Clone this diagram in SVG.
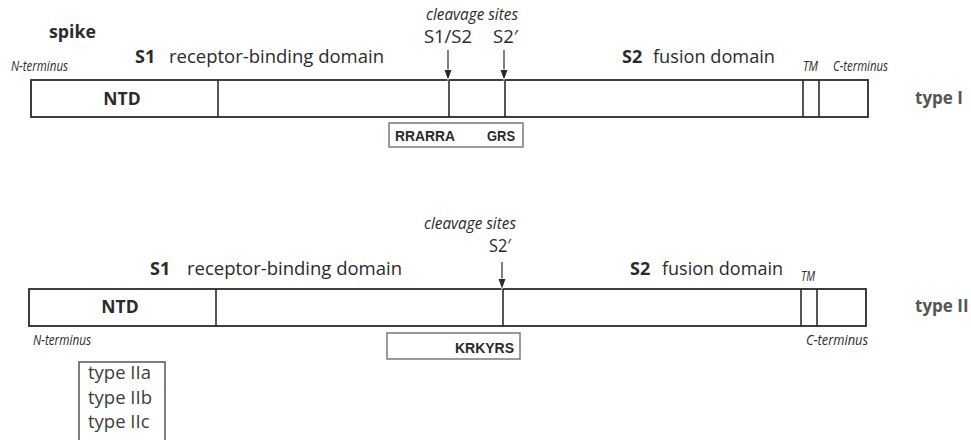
<svg xmlns="http://www.w3.org/2000/svg" width="971" height="440" viewBox="0 0 971 440">
  <style>
    .bg { fill: #ffffff; }
    .box { fill: #ffffff; stroke: #2b2b2b; stroke-width: 1.8; }
    .div { stroke: #2b2b2b; stroke-width: 1.6; fill: none; }
    .seq { fill: #ffffff; stroke: #7a7a7a; stroke-width: 1.5; }
    .sub { fill: #ffffff; stroke: #555555; stroke-width: 1.5; }
    .arr { stroke: #2b2b2b; stroke-width: 1.2; fill: none; }
    .head { fill: #2b2b2b; stroke: #ffffff; stroke-width: 1.2; paint-order: stroke; }
    text { font-family: "Open Sans", "Noto Sans", "DejaVu Sans", sans-serif; fill: #2b2b2b; }
    .b { font-weight: bold; }
    .dom { font-size: 18px; }
    .site { font-size: 18.5px; }
    .it { font-style: italic; font-size: 15.5px; }
    .term { font-style: italic; font-size: 14px; }
    .ntd { font-weight: bold; font-size: 17.5px; }
    .aa { font-family: "Liberation Sans", Arial, sans-serif; font-weight: bold; font-size: 14px; }
    .type { font-weight: bold; font-size: 17px; fill: #555555; }
    .sublbl { font-size: 18.5px; fill: #3d3d3d; }
  </style>

  <rect class="bg" x="0" y="0" width="971" height="440"/>

  <!-- Type I spike -->
  <g id="spike-type-I">
    <text class="b" x="49" y="38" font-size="17.5" textLength="47" lengthAdjust="spacingAndGlyphs">spike</text>
    <text class="term" x="11" y="71" textLength="57" lengthAdjust="spacingAndGlyphs">N-terminus</text>
    <text class="dom b" x="135" y="63">S1</text>
    <text class="dom" x="169" y="63" textLength="215" lengthAdjust="spacingAndGlyphs">receptor-binding domain</text>
    <text class="dom b" x="622" y="63">S2</text>
    <text class="dom" x="653" y="63" textLength="122" lengthAdjust="spacingAndGlyphs">fusion domain</text>
    <text class="term" x="803" y="71" textLength="15" lengthAdjust="spacingAndGlyphs">TM</text>
    <text class="term" x="833" y="71" textLength="55" lengthAdjust="spacingAndGlyphs">C-terminus</text>
    <rect class="box" x="31" y="80" width="837" height="37"/>
    <line class="div" x1="218" y1="80" x2="218" y2="117"/>
    <line class="div" x1="449" y1="80" x2="449" y2="117"/>
    <line class="div" x1="505" y1="80" x2="505" y2="117"/>
    <line class="div" x1="803" y1="80" x2="803" y2="117"/>
    <line class="div" x1="819" y1="80" x2="819" y2="117"/>
    <text class="ntd" x="122" y="105" text-anchor="middle">NTD</text>
    <text class="type" x="915" y="104">type I</text>
  </g>

  <g id="cleavage-type-I">
    <text class="it" x="472" y="20" text-anchor="middle" textLength="92" lengthAdjust="spacingAndGlyphs">cleavage sites</text>
    <text class="site" x="424" y="43" textLength="48" lengthAdjust="spacingAndGlyphs">S1/S2</text>
    <text class="site" x="493" y="43" textLength="25" lengthAdjust="spacingAndGlyphs">S2′</text>
  </g>

  <g id="motif-type-I">
    <rect class="seq" x="389" y="123" width="134" height="24"/>
    <text class="aa" x="395" y="141" textLength="60" lengthAdjust="spacingAndGlyphs">RRARRA</text>
    <text class="aa" x="487" y="141" textLength="28" lengthAdjust="spacingAndGlyphs">GRS</text>
  </g>

  <!-- Type II spike -->
  <g id="spike-type-II">
    <text class="dom b" x="150" y="275">S1</text>
    <text class="dom" x="187" y="275" textLength="215" lengthAdjust="spacingAndGlyphs">receptor-binding domain</text>
    <text class="dom b" x="630" y="275">S2</text>
    <text class="dom" x="662" y="275" textLength="121" lengthAdjust="spacingAndGlyphs">fusion domain</text>
    <text class="term" x="801" y="281" textLength="14" lengthAdjust="spacingAndGlyphs">TM</text>
    <rect class="box" x="29" y="289" width="837" height="37"/>
    <line class="div" x1="216" y1="289" x2="216" y2="326"/>
    <line class="div" x1="503" y1="289" x2="503" y2="326"/>
    <line class="div" x1="801" y1="289" x2="801" y2="326"/>
    <line class="div" x1="817" y1="289" x2="817" y2="326"/>
    <text class="ntd" x="120" y="313" text-anchor="middle">NTD</text>
    <text class="term" x="33" y="345" textLength="58" lengthAdjust="spacingAndGlyphs">N-terminus</text>
    <text class="term" x="806" y="345" textLength="62" lengthAdjust="spacingAndGlyphs">C-terminus</text>
    <text class="type" x="915" y="312">type II</text>
  </g>

  <g id="cleavage-type-II">
    <text class="it" x="470" y="229" text-anchor="middle" textLength="92" lengthAdjust="spacingAndGlyphs">cleavage sites</text>
    <text class="site" x="489" y="252" textLength="22" lengthAdjust="spacingAndGlyphs">S2′</text>
  </g>

  <g id="motif-type-II">
    <rect class="seq" x="387" y="333" width="133" height="26"/>
    <text class="aa" x="514" y="353" text-anchor="end" textLength="59" lengthAdjust="spacingAndGlyphs">KRKYRS</text>
  </g>

  <g id="subtypes">
    <rect class="sub" x="79" y="362" width="86" height="80"/>
    <text class="sublbl" x="88" y="379">type IIa</text>
    <text class="sublbl" x="88" y="404">type IIb</text>
    <text class="sublbl" x="88" y="428">type IIc</text>
  </g>

  <!-- Cleavage-site arrows -->
  <g id="connectors">
    <line class="arr" x1="448" y1="50" x2="448" y2="72"/>
    <path class="head" d="M444.5,70 L451.5,70 L448,79.5 Z"/>
    <line class="arr" x1="504" y1="50" x2="504" y2="72"/>
    <path class="head" d="M500.5,70 L507.5,70 L504,79.5 Z"/>
    <line class="arr" x1="502" y1="262" x2="502" y2="281"/>
    <path class="head" d="M498.5,279 L505.5,279 L502,288.5 Z"/>
  </g>
</svg>
